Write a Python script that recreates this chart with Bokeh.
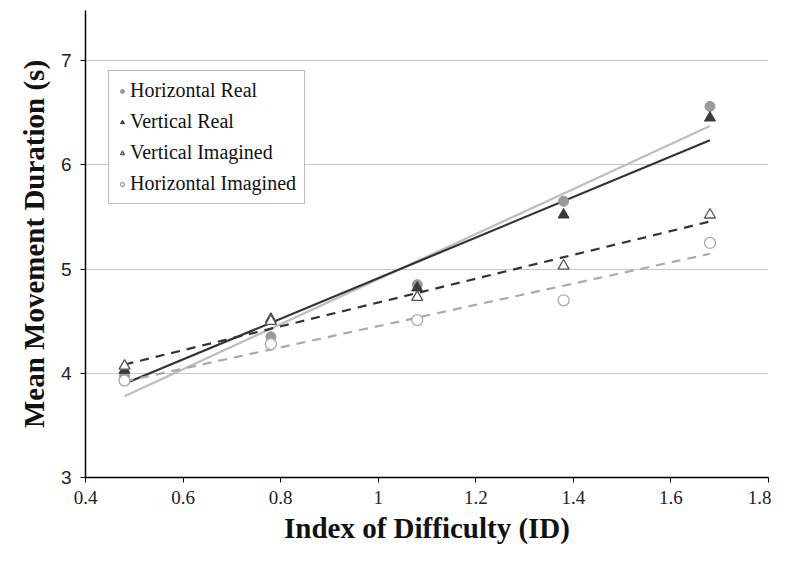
import numpy as np
from bokeh.plotting import figure
from bokeh.models import Range1d, FixedTicker, Legend, LegendItem
from bokeh.embed import file_html
from bokeh.resources import INLINE

# Data
ids = [0.48, 0.78, 1.08, 1.38, 1.68]
horizontal_real = [3.97, 4.35, 4.85, 5.65, 6.56]
vertical_real = [4.03, 4.52, 4.82, 5.52, 6.45]
vertical_imagined = [4.07, 4.50, 4.73, 5.03, 5.52]
horizontal_imagined = [3.93, 4.28, 4.51, 4.70, 5.25]

x_ticks = [0.4, 0.6, 0.8, 1.0, 1.2, 1.4, 1.6, 1.8]
y_ticks = [3, 4, 5, 6, 7]

SERIF = "Liberation Serif"

p = figure(width=771, height=546, output_backend="svg", toolbar_location=None,
           x_range=Range1d(0.4, 1.8), y_range=Range1d(3, 7.48),
           min_border_left=85, min_border_right=3, min_border_top=10, min_border_bottom=66)
p.outline_line_color = None
p.background_fill_color = "white"
p.border_fill_color = "white"

p.xgrid.grid_line_color = None
p.ygrid.grid_line_color = "#c8c8c8"
p.ygrid.grid_line_width = 1

p.xaxis.ticker = FixedTicker(ticks=x_ticks)
p.yaxis.ticker = FixedTicker(ticks=y_ticks)
p.xaxis.major_label_overrides = {0.4: "0.4", 0.6: "0.6", 0.8: "0.8", 1.0: "1", 1.2: "1.2",
                                 1.4: "1.4", 1.6: "1.6", 1.8: "1.8"}
for ax in (p.xaxis, p.yaxis):
    ax.axis_line_color = "black"
    ax.axis_line_width = 1.5
    ax.major_tick_line_color = "black"
    ax.major_tick_out = 5
    ax.major_tick_in = 0
    ax.minor_tick_line_color = None
    ax.major_label_text_color = "#222222"
    ax.axis_label_text_font = SERIF
    ax.axis_label_text_font_style = "bold"
    ax.axis_label_text_font_size = "29px"
    ax.axis_label_text_color = "#111111"
p.xaxis.major_label_text_font = SERIF
p.xaxis.major_label_text_font_size = "19px"
p.yaxis.major_label_text_font = "Liberation Sans"
p.yaxis.major_label_text_font_size = "19px"
p.xaxis.axis_label = "Index of Difficulty (ID)"
p.yaxis.axis_label = "Mean Movement Duration (s)"
p.xaxis.major_label_standoff = 8
p.yaxis.major_label_standoff = 9
p.xaxis.axis_label_standoff = 5
p.yaxis.axis_label_standoff = 8

# Linear trend lines fitted to each series
xs = np.array(ids)
def trend(vals):
    m, b = np.polyfit(xs, np.array(vals), 1)
    return [xs[0], xs[-1]], [m * xs[0] + b, m * xs[-1] + b]

tx, ty = trend(horizontal_real)
p.line(tx, ty, line_color="#bdbdbd", line_width=2.2)
tx, ty = trend(vertical_real)
p.line(tx, ty, line_color="#333333", line_width=2.2)
tx, ty = trend(vertical_imagined)
p.line(tx, ty, line_color="#333333", line_width=2.2, line_dash="9 7")
tx, ty = trend(horizontal_imagined)
p.line(tx, ty, line_color="#aaaaaa", line_width=2.2, line_dash="9 7")

r_hr = p.scatter(ids, horizontal_real, marker="circle", size=10,
                 fill_color="#9a9a9a", line_color="#9a9a9a")
r_vr = p.scatter(ids, vertical_real, marker="triangle", size=11,
                 fill_color="#3a3a3a", line_color="#3a3a3a")
r_vi = p.scatter(ids, vertical_imagined, marker="triangle", size=11,
                 fill_color="white", line_color="#555555", line_width=1.3)
r_hi = p.scatter(ids, horizontal_imagined, marker="circle", size=11,
                 fill_color="white", line_color="#aaaaaa", line_width=1.3)

legend = Legend(items=[
    LegendItem(label="Horizontal Real", renderers=[r_hr]),
    LegendItem(label="Vertical Real", renderers=[r_vr]),
    LegendItem(label="Vertical Imagined", renderers=[r_vi]),
    LegendItem(label="Horizontal Imagined", renderers=[r_hi]),
], location=(23, 273))
legend.border_line_color = "#777777"
legend.border_line_width = 1.5
legend.background_fill_color = "white"
legend.background_fill_alpha = 1
legend.label_text_font = SERIF
legend.label_text_font_size = "20px"
legend.label_text_color = "#111111"
legend.glyph_width = 10
legend.glyph_height = 22
legend.label_height = 22
legend.spacing = 8
legend.padding = 8
legend.margin = 0
legend.label_standoff = 3
p.add_layout(legend)

open("out.html", "w").write(file_html(p, INLINE))
